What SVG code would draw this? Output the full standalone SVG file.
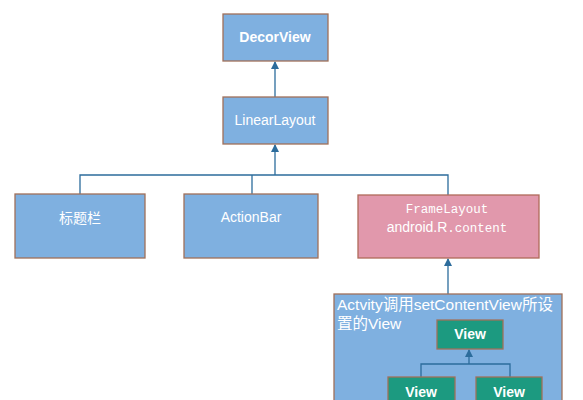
<svg xmlns="http://www.w3.org/2000/svg" width="583" height="400" viewBox="0 0 583 400">
<defs>
<style>
.b{fill:#7fb0e0;stroke:#a0705a;stroke-width:1.3}
.p{fill:#e198ac;stroke:#b06a5a;stroke-width:1.3}
.g{fill:#1c9a80;stroke:#a0705a;stroke-width:1.3}
.t{font-family:"Liberation Sans","Noto Sans CJK SC",sans-serif;fill:#ffffff;text-anchor:middle;font-size:14px}
.bd{font-weight:bold}
.m{font-family:"Liberation Mono",monospace;font-size:12.5px}
.c{fill:none;stroke:#2c6c9c;stroke-width:1.3}
.l{font-family:"Liberation Sans","Noto Sans CJK SC",sans-serif;fill:#ffffff;font-size:15.5px}
</style>
<marker id="ar" markerWidth="8" markerHeight="8" refX="7" refY="4" orient="auto" markerUnits="userSpaceOnUse">
<path d="M0,0 L8,4 L0,8 Z" fill="#2c6c9c"/>
</marker>
</defs>
<rect width="583" height="400" fill="#ffffff"/>
<g id="connectors">
<path class="c" d="M275,97 V62" marker-end="url(#ar)"/>
<path class="c" d="M275,175 V145" marker-end="url(#ar)"/>
<path class="c" d="M80,194 V175 H448 V195"/>
<path class="c" d="M252,175 V194"/>
<path class="c" d="M448,294 V259" marker-end="url(#ar)"/>
</g>
<g id="decorview">
<rect class="b" x="223" y="14" width="105" height="47"/>
<text class="t bd" x="275" y="42" font-size="14.5">DecorView</text>
</g>
<g id="linearlayout">
<rect class="b" x="223" y="97" width="105" height="47"/>
<text class="t" x="275" y="125" font-size="15">LinearLayout</text>
</g>
<g id="titlebar">
<rect class="b" x="15" y="194" width="130" height="64"/>
<text class="t" x="80" y="223" font-size="15.5">标题栏</text>
</g>
<g id="actionbar">
<rect class="b" x="184" y="194" width="134" height="64"/>
<text class="t" x="251" y="222" font-size="15.5">ActionBar</text>
</g>
<g id="framelayout">
<rect class="p" x="358" y="195" width="181" height="63"/>
<text class="t m" x="447" y="213">FrameLayout</text>
<text class="t" x="447" y="232" font-size="16">android.R<tspan class="m" font-size="12">.content</tspan></text>
</g>
<g id="content">
<rect class="b" x="334" y="294" width="228" height="120"/>
<text class="l" x="337" y="310">Actvity调用setContentView所设</text>
<text class="l" x="337" y="329">置的View</text>
<g id="inner-connectors">
<path class="c" d="M469,364 V350" marker-end="url(#ar)"/>
<path class="c" d="M421,377 V364 H510 V377"/>
</g>
<g id="view-top">
<rect class="g" x="437" y="320" width="66" height="29"/>
<text class="t bd" x="470" y="339">View</text>
</g>
<g id="view-left">
<rect class="g" x="388" y="377" width="67" height="30"/>
<text class="t bd" x="421" y="397">View</text>
</g>
<g id="view-right">
<rect class="g" x="476" y="377" width="66" height="30"/>
<text class="t bd" x="509" y="397">View</text>
</g>
</g>
</svg>
